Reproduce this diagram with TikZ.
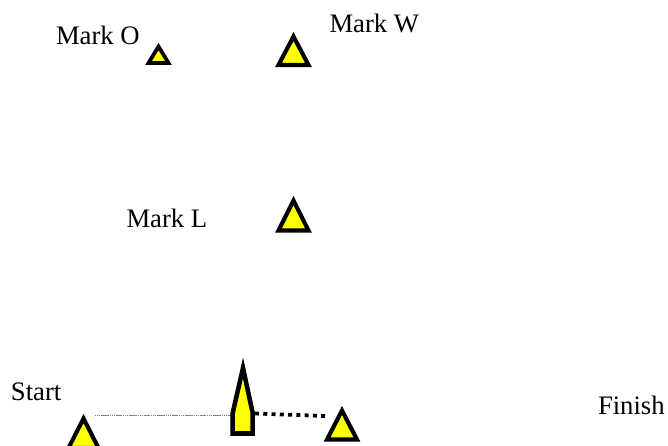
\documentclass[tikz,border=0pt]{standalone}
\usepackage{fontspec}
\setmainfont{Liberation Serif}
\definecolor{markyellow}{RGB}{255,255,0}
\tikzset{
  lbl/.style={anchor=base west,inner sep=0pt,outer sep=0pt,font=\fontsize{20}{24}\selectfont,text=black},
  buoy/.style={draw=black,fill=markyellow,line width=3.1pt,line join=miter},
  smallbuoy/.style={buoy,line width=2.8pt},
  hull/.style={draw=black,fill=markyellow,line width=3.4pt,line join=miter},
  startline/.style={draw=black!50,line width=0.5pt,dash pattern=on 1pt off 0.4pt},
  finishline/.style={draw=black,line width=2.8pt,dash pattern=on 3pt off 3.2pt}
}
\begin{document}
\begin{tikzpicture}[x=0.75pt,y=-0.75pt]
\useasboundingbox (0,0) rectangle (668,446);
\node[lbl] (markO) at (56,45) {Mark O};
\node[lbl] (markW) at (329.5,32) {Mark W};
\node[lbl] (markL) at (126.5,227) {Mark L};
\node[lbl] (start) at (11,400) {Start};
\node[lbl] (finish) at (598,414) {Finish};
\begin{scope}
\clip (0,0) rectangle (668,446);
\draw[smallbuoy] (158.5,46.5) -- (168.5,63) -- (148.5,63) -- cycle;
\draw[buoy] (293.5,36.5) -- (308.5,65) -- (278.5,65) -- cycle;
\draw[buoy] (293.5,200.5) -- (308.5,230.5) -- (278.5,230.5) -- cycle;
\draw[buoy] (83.5,418.5) -- (98.5,448) -- (68.5,448) -- cycle;
\draw[buoy] (342,410.5) -- (357,439.5) -- (327,439.5) -- cycle;
\coordinate (lineA) at (95,415.5);
\coordinate (lineB) at (232,415.5);
\coordinate (dotA) at (255,413.5);
\coordinate (dotB) at (325,416);
\draw[startline] (lineA) -- (lineB);
\draw[finishline] (dotA) -- (dotB);
\draw[hull] (243,368) -- (252.7,413) -- (252.7,433.5) -- (232.7,433.5) -- (232.7,413) -- cycle;
\end{scope}
\end{tikzpicture}
\end{document}
